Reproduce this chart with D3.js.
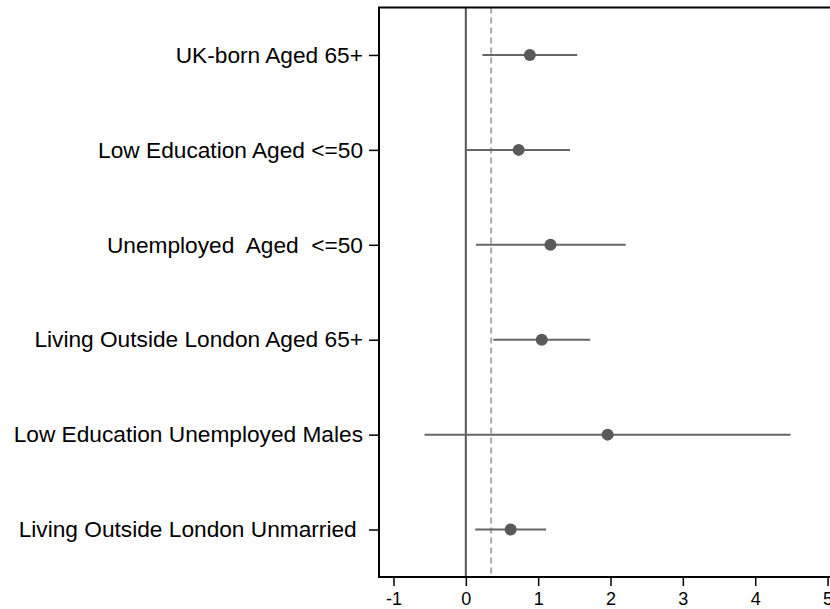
<!DOCTYPE html>
<html>
<head>
<meta charset="utf-8">
<script src="https://cdn.jsdelivr.net/npm/d3@7"></script>
<style>
  html, body { margin: 0; padding: 0; background: #fff; }
  svg { display: block; font-family: "Liberation Sans", Arial, sans-serif; }
</style>
</head>
<body>
<svg id="chart" width="830" height="609"></svg>
<script>
// Subgroup estimates with 95% confidence intervals
const groups = [
  "UK-born Aged 65+",
  "Low Education Aged <=50",
  "Unemployed  Aged  <=50",
  "Living Outside London Aged 65+",
  "Low Education Unemployed Males",
  "Living Outside London Unmarried "
];
const estimates = [0.885, 0.73, 1.17, 1.05, 1.96, 0.62];
const lower     = [0.23, 0.00, 0.14, 0.38, -0.57, 0.13];
const upper     = [1.54, 1.44, 2.21, 1.72, 4.49, 1.11];
const xTicks    = [-1, 0, 1, 2, 3, 4, 5];
const refLine   = 0.35;

const svg = d3.select("#chart");
const plotLeft = 379, plotRight = 829, plotTop = 7.5, plotBottom = 577;

const x = d3.scaleLinear().domain([-1.2, 5.02]).range([plotLeft, plotRight]);
const y = d3.scalePoint().domain(groups).range([plotTop, plotBottom]).padding(0.5);

const rows = groups.map((g, i) => ({ g, est: estimates[i], lo: lower[i], hi: upper[i] }));

// zero line
svg.append("line")
  .attr("x1", x(0)).attr("x2", x(0))
  .attr("y1", plotTop).attr("y2", plotBottom)
  .attr("stroke", "#555").attr("stroke-width", 2);

// dashed reference line
svg.append("line")
  .attr("x1", x(refLine)).attr("x2", x(refLine))
  .attr("y1", plotTop).attr("y2", plotBottom)
  .attr("stroke", "#aaa").attr("stroke-width", 2)
  .attr("stroke-dasharray", "6,4");

// confidence intervals
svg.append("g").selectAll("line").data(rows).join("line")
  .attr("x1", d => x(d.lo)).attr("x2", d => x(d.hi))
  .attr("y1", d => y(d.g)).attr("y2", d => y(d.g))
  .attr("stroke", "#666").attr("stroke-width", 2);

// point estimates
svg.append("g").selectAll("circle").data(rows).join("circle")
  .attr("cx", d => x(d.est)).attr("cy", d => y(d.g))
  .attr("r", 6).attr("fill", "#595959");

// frame
svg.append("rect")
  .attr("x", plotLeft).attr("y", plotTop)
  .attr("width", plotRight - plotLeft + 5).attr("height", plotBottom - plotTop)
  .attr("fill", "none").attr("stroke", "#000").attr("stroke-width", 2);

// x axis
const xAxis = svg.append("g")
  .attr("transform", `translate(0,${plotBottom})`)
  .call(d3.axisBottom(x).tickValues(xTicks).tickSize(9).tickPadding(6).tickFormat(d => String(d)));
xAxis.select(".domain").remove();
xAxis.selectAll(".tick line").attr("stroke", "#000").attr("stroke-width", 1.5);
xAxis.selectAll(".tick text").attr("fill", "#000").style("font-size", "18px")
  .style("font-family", '"Liberation Sans", Arial, sans-serif');

// y axis
const yAxis = svg.append("g")
  .attr("transform", `translate(${plotLeft},0)`)
  .call(d3.axisLeft(y).tickSize(10).tickPadding(6));
yAxis.select(".domain").remove();
yAxis.selectAll(".tick line").attr("stroke", "#000").attr("stroke-width", 1.5);
yAxis.selectAll(".tick text").attr("fill", "#000").style("font-size", "22.7px")
  .style("white-space", "pre")
  .style("font-family", '"Liberation Sans", Arial, sans-serif');
</script>
</body>
</html>
